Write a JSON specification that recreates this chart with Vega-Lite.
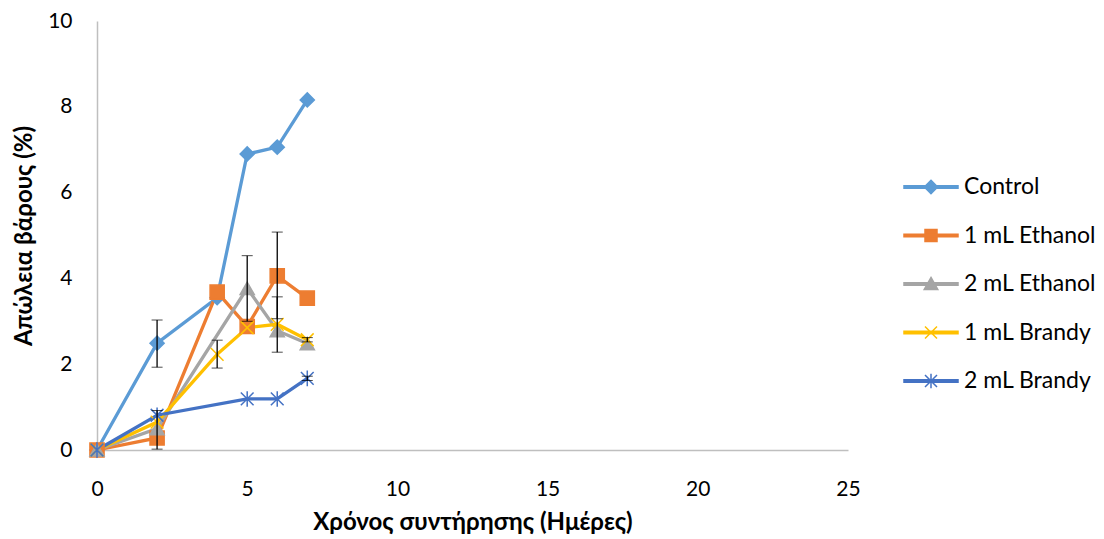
{
  "$schema": "https://vega.github.io/schema/vega-lite/v6.json",
  "width": 751,
  "height": 429,
  "autosize": {"type": "none"},
  "padding": {"left": 97, "top": 21, "right": 256, "bottom": 89},
  "config": {
    "view": {"stroke": null},
    "font": "Lato",
    "axis": {
      "grid": false,
      "ticks": false,
      "domainColor": "#BFBFBF",
      "domainWidth": 1.5,
      "labelFontSize": 21,
      "labelColor": "#000000",
      "labelFont": "Lato",
      "labelFlush": false,
      "titleFont": "Lato",
      "titleFontSize": 24,
      "titleFontWeight": "bold",
      "titleColor": "#000000"
    },
    "legend": {
      "title": null,
      "orient": "none",
      "legendX": 813,
      "legendY": 145,
      "padding": 0,
      "symbolSize": 1600,
      "symbolOpacity": 1,
      "symbolStrokeWidth": 1.5,
      "rowPadding": 15.5,
      "labelFontSize": 23,
      "labelFont": "Lato",
      "labelColor": "#000000",
      "labelOffset": 12,
      "labelLimit": 300
    }
  },
  "datasets": {
    "series": [
      {"Series": "Control", "Day": 0, "Loss": 0},
      {"Series": "Control", "Day": 2, "Loss": 2.49},
      {"Series": "Control", "Day": 4, "Loss": 3.55},
      {"Series": "Control", "Day": 5, "Loss": 6.9},
      {"Series": "Control", "Day": 6, "Loss": 7.06},
      {"Series": "Control", "Day": 7, "Loss": 8.16},
      {"Series": "1 mL Ethanol", "Day": 0, "Loss": 0},
      {"Series": "1 mL Ethanol", "Day": 2, "Loss": 0.28},
      {"Series": "1 mL Ethanol", "Day": 4, "Loss": 3.68},
      {"Series": "1 mL Ethanol", "Day": 5, "Loss": 2.88},
      {"Series": "1 mL Ethanol", "Day": 6, "Loss": 4.06},
      {"Series": "1 mL Ethanol", "Day": 7, "Loss": 3.54},
      {"Series": "2 mL Ethanol", "Day": 0, "Loss": 0},
      {"Series": "2 mL Ethanol", "Day": 2, "Loss": 0.5},
      {"Series": "2 mL Ethanol", "Day": 5, "Loss": 3.77},
      {"Series": "2 mL Ethanol", "Day": 6, "Loss": 2.78},
      {"Series": "2 mL Ethanol", "Day": 7, "Loss": 2.48},
      {"Series": "1 mL Brandy", "Day": 0, "Loss": 0},
      {"Series": "1 mL Brandy", "Day": 2, "Loss": 0.65},
      {"Series": "1 mL Brandy", "Day": 4, "Loss": 2.23},
      {"Series": "1 mL Brandy", "Day": 5, "Loss": 2.85},
      {"Series": "1 mL Brandy", "Day": 6, "Loss": 2.93},
      {"Series": "1 mL Brandy", "Day": 7, "Loss": 2.57},
      {"Series": "2 mL Brandy", "Day": 0, "Loss": 0},
      {"Series": "2 mL Brandy", "Day": 2, "Loss": 0.81},
      {"Series": "2 mL Brandy", "Day": 5, "Loss": 1.19},
      {"Series": "2 mL Brandy", "Day": 6, "Loss": 1.19},
      {"Series": "2 mL Brandy", "Day": 7, "Loss": 1.67}
    ],
    "errors": [
      {"Day": 2, "lo": 1.93, "hi": 3.03},
      {"Day": 2, "lo": 0.02, "hi": 0.92},
      {"Day": 4, "lo": 1.91, "hi": 2.56},
      {"Day": 5, "lo": 3.0, "hi": 4.53},
      {"Day": 6, "lo": 3.06, "hi": 5.08},
      {"Day": 6, "lo": 2.28, "hi": 3.57},
      {"Day": 7, "lo": 2.52, "hi": 2.62},
      {"Day": 7, "lo": 1.62, "hi": 1.72}
    ]
  },
  "resolve": {
    "scale": {"shape": "independent"},
    "legend": {"color": "independent", "shape": "independent", "stroke": "independent"}
  },
  "layer": [
    {
      "data": {"name": "series"},
      "mark": {"type": "line", "strokeWidth": 3.3, "stroke": {"expr": "scale('color', datum.Series)"}},
      "encoding": {
        "x": {
          "field": "Day",
          "type": "quantitative",
          "scale": {"domain": [0, 25], "nice": false},
          "title": "Χρόνος συντήρησης (Ημέρες)",
          "axis": {
            "values": [0, 5, 10, 15, 20, 25],
            "labelPadding": 28,
            "titlePadding": 11
          }
        },
        "y": {
          "field": "Loss",
          "type": "quantitative",
          "scale": {"domain": [0, 10], "nice": false},
          "title": "Απώλεια βάρους (%)",
          "axis": {
            "values": [0, 2, 4, 6, 8, 10],
            "labelPadding": 25,
            "titlePadding": 11
          }
        },
        "detail": {"field": "Series", "type": "nominal"}
      }
    },
    {
      "data": {"name": "series"},
      "mark": {
        "type": "point",
        "filled": true,
        "size": 200,
        "strokeWidth": 1.5,
        "opacity": 1,
        "stroke": {"expr": "scale('color', datum.Series)"}
      },
      "encoding": {
        "x": {"field": "Day", "type": "quantitative", "title": "Χρόνος συντήρησης (Ημέρες)"},
        "y": {"field": "Loss", "type": "quantitative", "title": "Απώλεια βάρους (%)"},
        "color": {
          "field": "Series",
          "type": "nominal",
          "scale": {
            "domain": ["Control", "1 mL Ethanol", "2 mL Ethanol", "1 mL Brandy", "2 mL Brandy"],
            "range": ["#5B9BD5", "#ED7D31", "#A5A5A5", "#FFC000", "#4472C4"]
          },
          "legend": null
        },
        "shape": {
          "field": "Series",
          "type": "nominal",
          "scale": {
            "domain": ["Control", "1 mL Ethanol", "2 mL Ethanol", "1 mL Brandy", "2 mL Brandy"],
            "range": ["diamond", "square", "triangle-up", "M-0.9,-0.9L0.9,0.9M-0.9,0.9L0.9,-0.9", "M-0.9,-0.9L0.9,0.9M-0.9,0.9L0.9,-0.9M0,-1.1L0,1.1"]
          },
          "legend": null
        }
      }
    },
    {
      "data": {"name": "series"},
      "mark": {"type": "point", "filled": true, "opacity": 0, "size": 1},
      "encoding": {
        "x": {"field": "Day", "type": "quantitative", "title": "Χρόνος συντήρησης (Ημέρες)"},
        "y": {"field": "Loss", "type": "quantitative", "title": "Απώλεια βάρους (%)"},
        "color": {"field": "Series", "type": "nominal", "legend": {}},
        "stroke": {
          "field": "Series",
          "type": "nominal",
          "scale": {
            "domain": ["Control", "1 mL Ethanol", "2 mL Ethanol", "1 mL Brandy", "2 mL Brandy"],
            "range": ["#5B9BD5", "#ED7D31", "#A5A5A5", "#FFC000", "#4472C4"]
          },
          "legend": {}
        },
        "shape": {
          "field": "Series",
          "type": "nominal",
          "scale": {
            "domain": ["Control", "1 mL Ethanol", "2 mL Ethanol", "1 mL Brandy", "2 mL Brandy"],
            "range": [
              "M-1.35,-0.06H1.35V0.06H-1.35Z M0,-0.33L0.33,0L0,0.33L-0.33,0Z",
              "M-1.35,-0.06H1.35V0.06H-1.35Z M-0.3,-0.3H0.3V0.3H-0.3Z",
              "M-1.35,-0.06H1.35V0.06H-1.35Z M0,-0.33L0.34,0.27H-0.34Z",
              "M-1.35,-0.06H1.35V0.06H-1.35Z M-0.3,-0.3L0.3,0.3M-0.3,0.3L0.3,-0.3",
              "M-1.35,-0.06H1.35V0.06H-1.35Z M-0.3,-0.3L0.3,0.3M-0.3,0.3L0.3,-0.3M0,-0.36L0,0.36"
            ]
          },
          "legend": {}
        }
      }
    },
    {
      "data": {"name": "errors"},
      "mark": {
        "type": "errorbar",
        "ticks": {"size": 11, "color": "#000000", "strokeWidth": 1.3},
        "rule": {"color": "#000000", "strokeWidth": 1.3}
      },
      "encoding": {
        "x": {"field": "Day", "type": "quantitative", "title": "Χρόνος συντήρησης (Ημέρες)"},
        "y": {"field": "lo", "type": "quantitative", "title": "Απώλεια βάρους (%)"},
        "y2": {"field": "hi"}
      }
    }
  ]
}
